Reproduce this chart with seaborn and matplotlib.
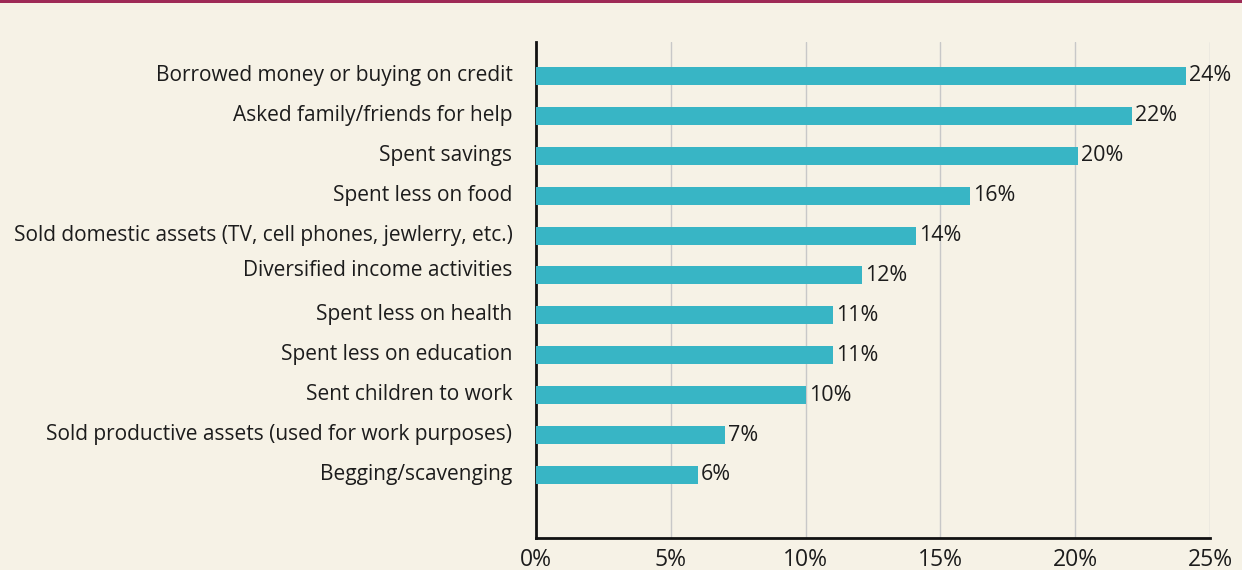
import matplotlib
matplotlib.use("Agg")
import matplotlib.pyplot as plt
import matplotlib.transforms as mtransforms
import seaborn as sns
import pandas as pd
from matplotlib.patches import Rectangle

# data
strategies = [
    "Borrowed money or buying on credit",
    "Asked family/friends for help",
    "Spent savings",
    "Spent less on food",
    "Sold domestic assets (TV, cell phones, jewlerry, etc.)",
    "Diversified income activities",
    "Spent less on health",
    "Spent less on education",
    "Sent children to work",
    "Sold productive assets (used for work purposes)",
    "Begging/scavenging",
]
shares = [24.1, 22.1, 20.1, 16.1, 14.1, 12.1, 11.0, 11.0, 10.0, 7.0, 6.0]
x_ticks = [0, 5, 10, 15, 20, 25]

BG = "#F6F2E6"
BAR = "#38B5C5"
TOP = "#9E2A56"
INK = "#1C1C1C"

sns.set_theme(style="white")
plt.rcParams["font.family"] = ["Open Sans", "DejaVu Sans"]

df = pd.DataFrame({"Strategy": strategies, "Share": shares})

fig = plt.figure(figsize=(12.42, 5.70), dpi=100, facecolor=BG)
ax = fig.add_axes([536 / 1242, 1 - 538 / 570, 674 / 1242, 496 / 570])
ax.set_facecolor(BG)

# top accent band
fig.add_artist(Rectangle((0, 1 - 3 / 570), 1, 3 / 570, color=TOP,
                         transform=fig.transFigure, linewidth=0))

sns.barplot(
    data=df,
    x="Share",
    y="Strategy",
    color=BAR,
    saturation=1,
    width=0.45,
    orient="h",
    linewidth=0,
    ax=ax,
    zorder=3
)

for i, v in enumerate(shares):
    ax.text(v + 0.12, i, f"{round(v)}%", va="center", ha="left",
            fontsize=15.5, color=INK)

ax.set_xlim(0, 25)
ax.set_ylim(len(strategies) - 1 + 1.58, -0.85)
ax.set_xticks(x_ticks)
ax.set_xticklabels([f"{t}%" for t in x_ticks])

for t in x_ticks[1:]:
    ax.axvline(t, color="#C8C8C8", linewidth=1.0, zorder=1)

ax.set_xlabel("")
ax.set_ylabel("")

for side in ["top", "right"]:
    ax.spines[side].set_visible(False)
for side in ["left", "bottom"]:
    ax.spines[side].set_color("#111111")
    ax.spines[side].set_linewidth(2)

ax.tick_params(axis="x", direction="in", length=9, width=2, color="#111111",
               labelsize=16.5, labelcolor=INK, pad=7)
ax.tick_params(axis="y", length=0, labelsize=15, labelcolor=INK, pad=17)

# category labels sit a touch above bar centres in the original
lift = mtransforms.ScaledTranslation(0, 3 / 100, fig.dpi_scale_trans)
for lbl in ax.get_yticklabels():
    extra = 4 / 100 if lbl.get_text().startswith("Diversified") else 0
    lbl.set_transform(lbl.get_transform() + lift
                      + mtransforms.ScaledTranslation(0, extra, fig.dpi_scale_trans))

fig.savefig("out.png", dpi=100, facecolor=BG)
